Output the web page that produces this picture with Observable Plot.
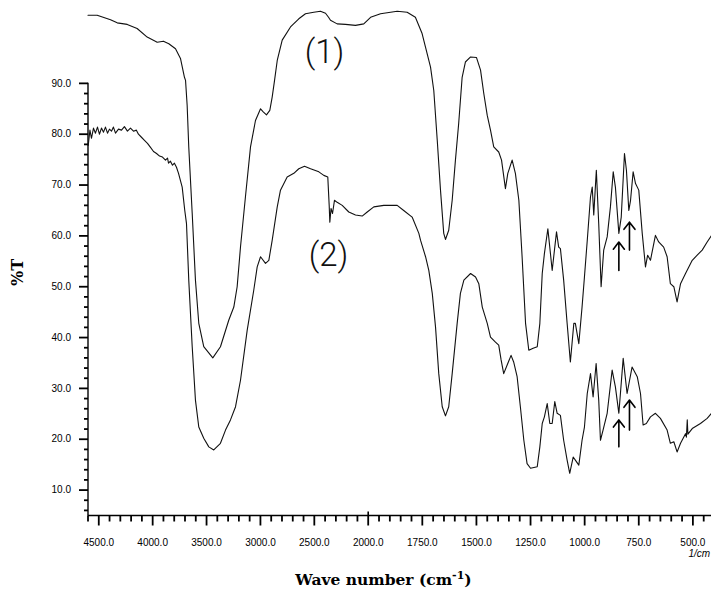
<!DOCTYPE html>
<html><head><meta charset="utf-8">
<script src="https://cdn.jsdelivr.net/npm/d3@7"></script>
<script src="https://cdn.jsdelivr.net/npm/@observablehq/plot@0.6"></script>
<style>html,body{margin:0;padding:0;background:#fff;}</style>
</head><body><div id="chart"></div>
<script>
// Spectrum (1): wavenumber (cm-1) and %T
const c1Wn = [4600,4515,4391,4329,4236,4144,4051,3958,3900,3850,3788,3742,3705,3695,3680,3665,3633,3603,3572,3526,3442,3371,3294,3247,3216,3185,3139,3092,3046,2999,2974,2944,2913,2891,2869,2844,2798,2721,2644,2582,2505,2443,2396,2368,2350,2288,2211,2118,2041,1989,1943,1866,1820,1782,1751,1735,1712,1697,1681,1666,1651,1643,1628,1612,1597,1582,1566,1551,1527,1500,1481,1466,1450,1435,1420,1397,1384,1366,1355,1335,1320,1304,1289,1273,1258,1238,1219,1207,1196,1186,1170,1158,1150,1138,1130,1120,1112,1097,1081,1066,1050,1043,1027,1012,1001,988,973,965,958,946,935,924,912,896,881,868,858,842,831,816,807,796,788,776,765,750,734,719,709,696,673,658,635,619,604,588,573,557,534,503,480,457,434,414];
const c1T = [103.4,103.4,102.5,101.9,101.6,100.8,99.1,98.1,98.3,97.8,96.8,94.9,91.2,90.6,85.7,77.5,64.4,51.3,42.8,38.2,36.0,38.2,43.4,46.0,50.0,57.8,67.7,77.5,82.7,85.0,84.4,83.8,84.7,87.3,90.6,94.5,98.5,101.1,102.7,103.7,104.0,104.2,103.8,103.0,102.4,101.7,101.6,101.4,101.7,103.0,103.7,104.2,104.0,103.0,99.8,97.1,93.2,88.6,78.8,69.0,60.5,59.3,61.1,67.0,74.9,82.1,91.2,94.2,95.2,95.1,92.6,88.0,83.7,80.8,77.5,76.5,74.9,69.3,72.3,74.9,72.3,67.0,55.9,42.8,37.5,37.9,38.2,42.8,52.6,56.5,61.4,56.5,53.2,57.8,60.8,57.8,57.5,51.3,42.8,35.2,42.8,42.8,38.8,46.0,51.9,59.1,67.7,69.6,64.1,72.9,62.4,50.0,57.2,59.8,65.7,72.6,69.6,60.5,63.7,76.2,72.9,65.0,67.0,72.6,70.3,69.0,60.5,53.9,56.2,55.2,60.1,58.8,57.8,55.9,50.6,50.0,47.0,50.6,52.6,55.2,56.2,57.2,58.8,60.1];

// Spectrum (2)
const c2Wn = [4598,4582,4568,4549,4531,4512,4494,4475,4456,4438,4419,4401,4382,4364,4345,4317,4289,4262,4234,4206,4178,4151,4132,4104,4076,4048,4020,3992,3964,3936,3909,3881,3862,3853,3835,3816,3798,3779,3760,3726,3702,3686,3665,3633,3603,3572,3526,3479,3433,3371,3324,3278,3231,3185,3123,3062,3030,2999,2953,2922,2891,2844,2814,2752,2690,2644,2591,2535,2458,2412,2375,2362,2356,2345,2331,2313,2288,2241,2180,2118,2056,2009,1974,1928,1866,1836,1797,1766,1758,1735,1720,1704,1689,1674,1658,1643,1628,1612,1589,1574,1558,1527,1504,1489,1473,1450,1435,1412,1397,1386,1374,1358,1340,1328,1312,1297,1281,1266,1250,1219,1207,1196,1186,1173,1161,1150,1138,1127,1112,1097,1081,1069,1053,1043,1027,1012,1001,988,973,961,947,935,927,915,896,873,858,842,822,804,781,757,742,730,715,696,673,650,619,604,588,573,557,534,530,526,523,503,465,434,414];
const c2T = [77.8,80.8,79.2,81.2,80.2,81.4,80.0,81.2,80.4,81.4,80.2,81.0,80.6,81.4,80.2,81.0,80.8,81.5,80.6,81.2,80.6,80.8,80.0,79.4,78.8,78.2,77.4,76.6,76.2,75.7,75.5,74.9,75.3,74.3,74.7,73.9,74.3,73.5,72.3,69.6,65.0,62.4,51.3,38.2,27.7,22.4,20.2,18.5,17.9,19.2,21.8,23.8,26.4,31.6,41.4,49.3,53.9,55.9,54.6,55.2,59.1,65.7,69.0,71.6,72.3,73.2,73.7,73.2,72.6,71.9,71.6,66.0,62.7,65.4,64.4,67.0,66.6,66.0,64.7,64.1,63.9,64.7,65.7,66.0,66.0,65.0,63.7,60.5,59.1,55.9,53.2,48.7,42.1,32.9,26.4,24.6,26.4,32.9,42.8,48.7,51.3,52.6,51.9,50.6,46.0,42.8,40.1,39.1,38.5,35.6,32.9,34.6,36.5,35.2,32.3,26.4,19.8,15.2,14.3,14.6,18.5,23.1,24.4,27.0,23.1,23.1,27.4,25.1,24.7,19.8,15.9,13.3,16.5,15.9,14.9,19.8,22.4,29.0,32.9,28.3,34.9,27.7,19.8,21.8,25.1,33.6,30.3,25.1,35.9,29.0,34.2,32.3,29.0,22.8,23.1,24.4,25.1,24.1,21.8,19.2,19.5,17.5,19.2,21.1,20.4,23.8,21.0,22.1,23.1,24.1,25.1];

// Curve labels
const labelText = ["(1)", "(2)"];
const labelWn = [2405, 2368];
const labelT = [96.1, 56.2];

// Arrows marking bands
const arrowWn = [842, 793, 842, 793];
const arrowFrom = [53.2, 57.2, 18.5, 21.8];
const arrowTo = [58.8, 62.7, 23.8, 27.7];

// Axis ticks
const xMajor = [4500,4000,3500,3000,2500,2000,1750,1500,1250,1000,750,500];
const xMinor = [4600,4400,4300,4200,4100,3900,3800,3700,3600,3400,3300,3200,3100,2900,2800,2700,2600,2400,2300,2200,2100,
  1950,1900,1850,1800,1700,1650,1600,1550,1450,1400,1350,1300,1200,1150,1100,1050,950,900,850,800,700,650,600,550,450];
const yMajor = [10,20,30,40,50,60,70,80,90];
const yMinor = [6,8,12,14,16,18,22,24,26,28,32,34,36,38,42,44,46,48,52,54,56,58,62,64,66,68,72,74,76,78,82,84,86,88];

// axis extents: x axis starts at 4600, y axis runs from 5 to 90
const xStart = 4600, xEnd = 414, yBase = 5, yTop = 90;

// pixel -> data helpers for tick lengths (y: ~5.084 px/unit, left x segment: ~9.26 units/px)
const yPx = px => px / 5.084;
const xPx = px => px * 9.26;

const curve1 = c1Wn.map((w, i) => ({wn: w, t: c1T[i]}));
const curve2 = c2Wn.map((w, i) => ({wn: w, t: c2T[i]}));
const labels = labelText.map((s, i) => ({s, wn: labelWn[i], t: labelT[i]}));
const arrows = arrowWn.map((w, i) => ({wn: w, a: arrowFrom[i], b: arrowTo[i]}));

// tick segments (value + tick length in px)
const xTicks = xMajor.map(v => ({v, len: 10})).concat(xMinor.map(v => ({v, len: 6})));
const yTicks = yMajor.map(v => ({v, len: 9})).concat(yMinor.map(v => ({v, len: 4})));

const chart = Plot.plot({
  width: 711, height: 592,
  margin: 0,
  style: {fontFamily: "'Liberation Sans', Arial, sans-serif", fontSize: "10px", background: "#fff", color: "#000", overflow: "visible"},
  x: {type: "linear", domain: [4700, 4600, 2000, 414], range: [76.7, 87.5, 367.7, 711], axis: null},
  y: {type: "linear", domain: [2, 106.3], range: [530.25, 0], axis: null},
  marks: [
    // axis lines
    Plot.ruleX([xStart], {y1: yBase, y2: yTop, stroke: "#000", strokeWidth: 1.4}),
    Plot.ruleY([yBase], {x1: xStart, x2: xEnd, stroke: "#000", strokeWidth: 1.4}),
    // tick marks
    Plot.link(xTicks, {x1: d => d.v, x2: d => d.v, y1: () => yBase, y2: d => yBase - yPx(d.len), stroke: "#000", strokeWidth: 1.8}),
    Plot.link(yTicks, {y1: d => d.v, y2: d => d.v, x1: () => xStart, x2: d => xStart + xPx(d.len), stroke: "#000", strokeWidth: 1.8}),
    Plot.link([2000], {x1: d => d, x2: d => d, y1: () => yBase, y2: () => yBase + yPx(4), stroke: "#000", strokeWidth: 1.6}),
    // tick labels
    Plot.text(yMajor, {x: xStart, y: d => d, text: d => d.toFixed(1), dx: -17, textAnchor: "end", lineAnchor: "middle", fontSize: 10}),
    Plot.text(xMajor, {x: d => d, y: yBase, text: d => d.toFixed(1), dy: 23, textAnchor: "middle", lineAnchor: "top", fontSize: 10}),
    // spectra
    Plot.line(curve1, {x: "wn", y: "t", stroke: "#111", strokeWidth: 1.1}),
    Plot.line(curve2, {x: "wn", y: "t", stroke: "#111", strokeWidth: 1.1}),
    Plot.arrow(arrows, {x1: "wn", x2: "wn", y1: "a", y2: "b", stroke: "#000", strokeWidth: 1.6, headLength: 8.5, headAngle: 75}),
    Plot.text(labels, {x: "wn", y: "t", text: "s", fontSize: 33, fontFamily: "Roboto, 'DejaVu Sans', sans-serif", fontWeight: 300, textAnchor: "middle", lineAnchor: "middle", fill: "#111"}),
    // axis titles
    Plot.text(["%T"], {frameAnchor: "top-left", dx: 17, dy: 272, rotate: -90, fontFamily: "'DejaVu Serif', serif", fontWeight: "bold", fontSize: 16, textAnchor: "middle", lineAnchor: "middle"}),
    Plot.text(["Wave number (cm"], {frameAnchor: "bottom", dx: 27.5, dy: -8, fontFamily: "'DejaVu Serif', serif", fontWeight: "bold", fontSize: 15.5, textAnchor: "middle", lineAnchor: "bottom"}),
    Plot.text(["1/cm"], {frameAnchor: "bottom-left", dx: 688, dy: -36, fontSize: 10, fontStyle: "italic", textAnchor: "start", lineAnchor: "bottom"})
  ]
});

// add the superscript to the x-axis title as real text
chart.querySelectorAll("text").forEach(t => {
  if (t.textContent === "Wave number (cm") {
    const ns = "http://www.w3.org/2000/svg";
    const sup = document.createElementNS(ns, "tspan");
    sup.setAttribute("baseline-shift", "super");
    sup.setAttribute("font-size", "11");
    sup.textContent = "-1";
    const close = document.createElementNS(ns, "tspan");
    close.setAttribute("baseline-shift", "0");
    close.textContent = ")";
    t.appendChild(sup);
    t.appendChild(close);
  }
});

document.getElementById("chart").appendChild(chart);
</script>
</body></html>
